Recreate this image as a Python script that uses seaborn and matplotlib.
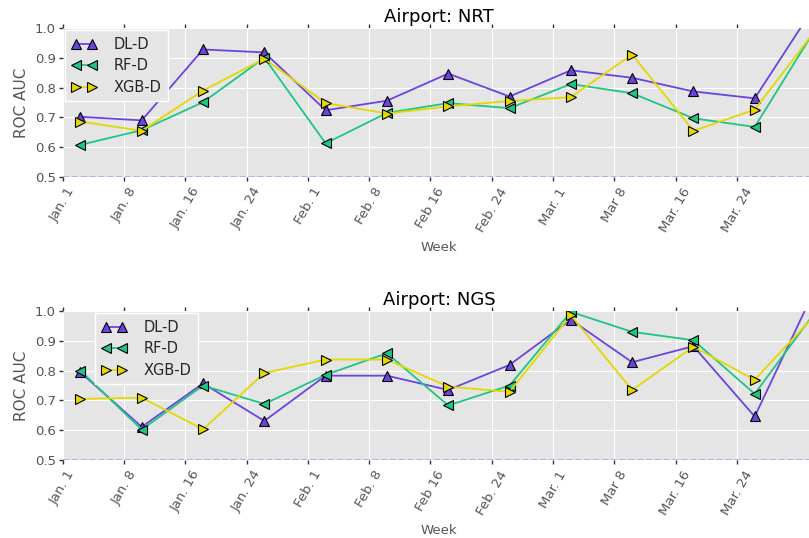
import numpy as np
import pandas as pd
import matplotlib
matplotlib.use("Agg")
import matplotlib.pyplot as plt
import seaborn as sns

# Weekly ROC AUC per model and airport
week_labels = ["Jan. 1", "Jan. 8", "Jan. 16", "Jan. 24", "Feb. 1", "Feb. 8",
               "Feb 16", "Feb. 24", "Mar. 1", "Mar 8", "Mar. 16", "Mar. 24"]
models = ["DL-D", "RF-D", "XGB-D"]

nrt_dl = [0.702, 0.690, 0.928, 0.918, 0.724, 0.756, 0.847, 0.770, 0.858, 0.833, 0.787, 0.764, 1.08]
nrt_rf = [0.608, 0.657, 0.751, 0.900, 0.613, 0.715, 0.748, 0.731, 0.812, 0.781, 0.697, 0.668, 1.00]
nrt_xgb = [0.686, 0.655, 0.790, 0.897, 0.748, 0.713, 0.737, 0.755, 0.768, 0.911, 0.655, 0.726, 0.995]

ngs_dl = [0.794, 0.611, 0.757, 0.631, 0.783, 0.783, 0.735, 0.819, 0.971, 0.828, 0.882, 0.646, 1.08]
ngs_rf = [0.800, 0.602, 0.750, 0.688, 0.786, 0.858, 0.683, 0.750, 0.997, 0.930, 0.902, 0.722, 1.00]
ngs_xgb = [0.705, 0.709, 0.603, 0.792, 0.837, 0.837, 0.746, 0.729, 0.986, 0.735, 0.880, 0.769, 0.99]

airports = {"NRT": [nrt_dl, nrt_rf, nrt_xgb], "NGS": [ngs_dl, ngs_rf, ngs_xgb]}

palette = {"DL-D": "#6B44E0", "RF-D": "#1DC683", "XGB-D": "#E3D800"}
markers = {"DL-D": "^", "RF-D": "<", "XGB-D": ">"}

sns.set_style("darkgrid", {"axes.facecolor": "#E5E5E5", "grid.color": "white",
                           "axes.edgecolor": "#E5E5E5"})
plt.rcParams["font.family"] = ["DejaVu Sans"]

W, H = 809, 538
fig = plt.figure(figsize=(W / 100, H / 100), dpi=100)

# each point sits a little past its week tick
point_offset = 0.29
x_pos = np.arange(13) + point_offset

axes_px = [(28, 177), (311, 460)]
legend_anchor = [(0.0, 1.0), (0.04, 1.0)]
left_px, right_px = 62.7, 816

for (name, series), (top, bot), anchor in zip(airports.items(), axes_px, legend_anchor):
    ax = fig.add_axes([left_px / W, 1 - bot / H, (right_px - left_px) / W, (bot - top) / H])
    df = pd.concat([pd.DataFrame({"week": x_pos, "auc": vals, "model": m})
                    for m, vals in zip(models, series)])
    sns.lineplot(data=df, x="week", y="auc", hue="model", style="model",
                 palette=palette, markers=markers, dashes=False, ax=ax,
                 markersize=7, markeredgecolor="black", markeredgewidth=0.8,
                 linewidth=1.3, legend=True)
    ax.axhline(0.5, color="#A8A8F0", linestyle="--", linewidth=1.2, zorder=1)
    ax.set_xlim(0, 12 + point_offset)
    ax.set_ylim(0.5, 1.0)
    ax.set_yticks([0.5, 0.6, 0.7, 0.8, 0.9, 1.0])
    ax.set_yticklabels(["0.5", "0.6", "0.7", "0.8", "0.9", "1.0"])
    ax.set_xticks(np.arange(len(week_labels)))
    ax.set_xticklabels(week_labels, rotation=60, ha="center")
    ax.tick_params(axis="x", which="both", direction="out", length=3, width=1,
                   color="#333333", top=True, bottom=True, labelsize=9.5,
                   labelcolor="#555555", pad=3)
    ax.tick_params(axis="y", direction="out", length=3, width=1, color="#333333",
                   left=True, labelsize=9.5, labelcolor="#555555", pad=2)
    for s in ax.spines.values():
        s.set_visible(False)
    ax.set_xlabel("Week", fontsize=9.5, color="#555555", labelpad=5)
    ax.set_ylabel("ROC AUC", fontsize=11, color="#555555")
    ax.set_title(f"Airport: {name}", fontsize=13, color="black", pad=4)

    handles, labels = ax.get_legend_handles_labels()
    leg = ax.legend(handles, labels, loc="upper left", bbox_to_anchor=anchor,
                    numpoints=2, fontsize=10.5, frameon=True, fancybox=False,
                    borderaxespad=0.15, handlelength=1.7, handletextpad=1.2,
                    labelspacing=0.45, borderpad=0.45)
    leg.get_frame().set_facecolor("#E5E5E5")
    leg.get_frame().set_edgecolor("white")
    leg.get_frame().set_alpha(1.0)
    for h in leg.legend_handles:
        h.set_markeredgecolor("black")
        h.set_markersize(7)

fig.savefig("out.png", dpi=100)
